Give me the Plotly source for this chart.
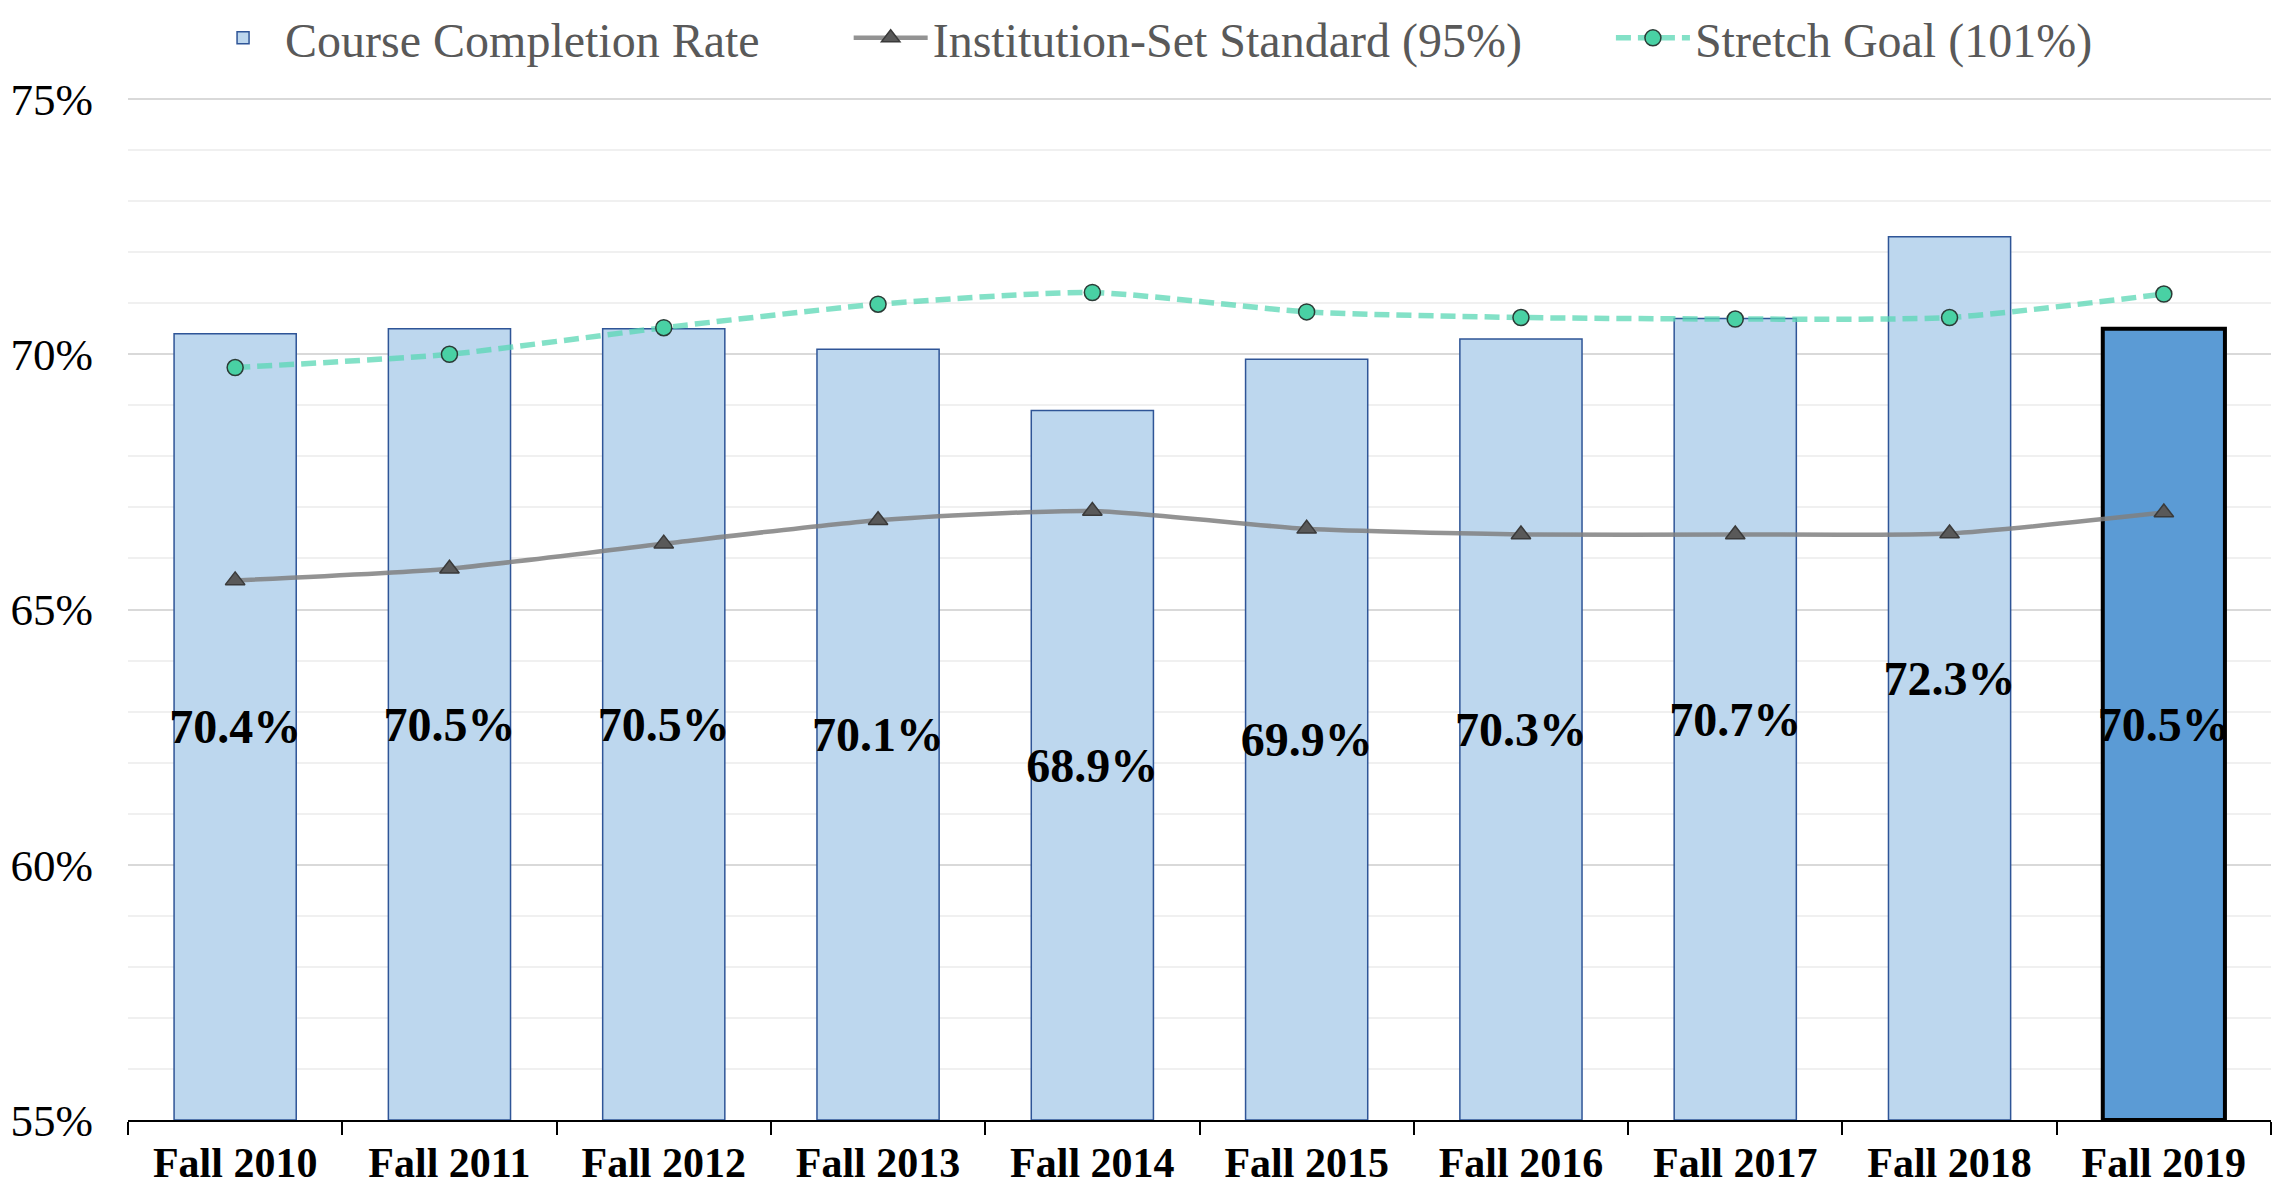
import plotly.graph_objects as go

categories = ["Fall 2010", "Fall 2011", "Fall 2012", "Fall 2013", "Fall 2014",
              "Fall 2015", "Fall 2016", "Fall 2017", "Fall 2018", "Fall 2019"]
completion = [70.4, 70.5, 70.5, 70.1, 68.9, 69.9, 70.3, 70.7, 72.3, 70.5]
standard = [65.57, 65.80, 66.29, 66.75, 66.93, 66.58, 66.47, 66.47, 66.49, 66.90]
stretch = [69.74, 70.00, 70.52, 70.98, 71.21, 70.83, 70.72, 70.69, 70.72, 71.18]
axis_min = 55
axis_max = 75

FONT = "Liberation Serif, Times New Roman, serif"
PAD = "\u00a0" * 7  # spacing between legend entries

bar_fill = ["#bdd7ee"] * (len(categories) - 1) + ["#5b9bd5"]
bar_line = ["#2f5597"] * (len(categories) - 1) + ["#000000"]
bar_lw = [1.5] * (len(categories) - 1) + [4]

fig = go.Figure()
fig.add_trace(go.Bar(
    x=categories,
    y=[v - axis_min for v in completion],
    base=axis_min,
    name="Course Completion Rate" + PAD,
    marker=dict(color=bar_fill, line=dict(color=bar_line, width=bar_lw)),
    text=[f"{v:.1f}%" for v in completion],
    textposition="inside",
    insidetextanchor="middle",
    textangle=0,
    constraintext="none",
    textfont=dict(family=FONT, size=48, color="black", weight="bold"),
))
fig.add_trace(go.Scatter(
    x=categories, y=standard, name="Institution-Set Standard (95%)" + PAD,
    mode="lines+markers",
    line=dict(color="rgba(128,128,128,0.85)", width=4.5, shape="spline", smoothing=0.6),
    marker=dict(symbol="triangle-up", size=17, color="#595959",
                line=dict(color="#3a3a3a", width=1.5)),
))
fig.add_trace(go.Scatter(
    x=categories, y=stretch, name="Stretch Goal (101%)",
    mode="lines+markers",
    line=dict(color="rgba(90,215,180,0.75)", width=5.5, dash="15px,7px",
              shape="spline", smoothing=0.6),
    marker=dict(symbol="circle", size=16, color="#49d1a4",
                line=dict(color="#2b3b36", width=1.5)),
))

# The page body has an 8px default margin; the figure is sized to fill the rest.
fig.update_layout(
    width=2282, height=1181,
    margin=dict(l=120, r=19, t=90, b=69, autoexpand=False),
    paper_bgcolor="white", plot_bgcolor="white",
    bargap=0.43,
    font=dict(family=FONT, color="black"),
    showlegend=True,
    legend=dict(orientation="h", xref="container", yref="container",
                x=0.0846, xanchor="left", y=0.9745, yanchor="middle",
                font=dict(family=FONT, size=48, color="#595959"),
                itemwidth=74,
                traceorder="normal", bgcolor="rgba(0,0,0,0)"),
)
fig.update_xaxes(
    type="category", automargin=False,
    range=[-0.5, len(categories) - 0.5],
    showline=True, linecolor="black", linewidth=2,
    ticks="outside", tickson="boundaries", ticklen=13, tickwidth=2, tickcolor="black",
    tickfont=dict(family=FONT, size=42, color="black", weight="bold"),
    ticklabelstandoff=5,
    showgrid=False,
)
fig.update_yaxes(
    range=[axis_min, axis_max + 0.02], tick0=axis_min, dtick=5, ticksuffix="%",
    automargin=False,
    showgrid=True, gridcolor="#d9d9d9", gridwidth=2,
    minor=dict(dtick=1, showgrid=True, gridcolor="#f0f0f0", gridwidth=1.5),
    zeroline=False, showline=False,
    tickfont=dict(family=FONT, size=45, color="black"),
    ticklabelstandoff=34,
)

fig.write_html("out.html")
